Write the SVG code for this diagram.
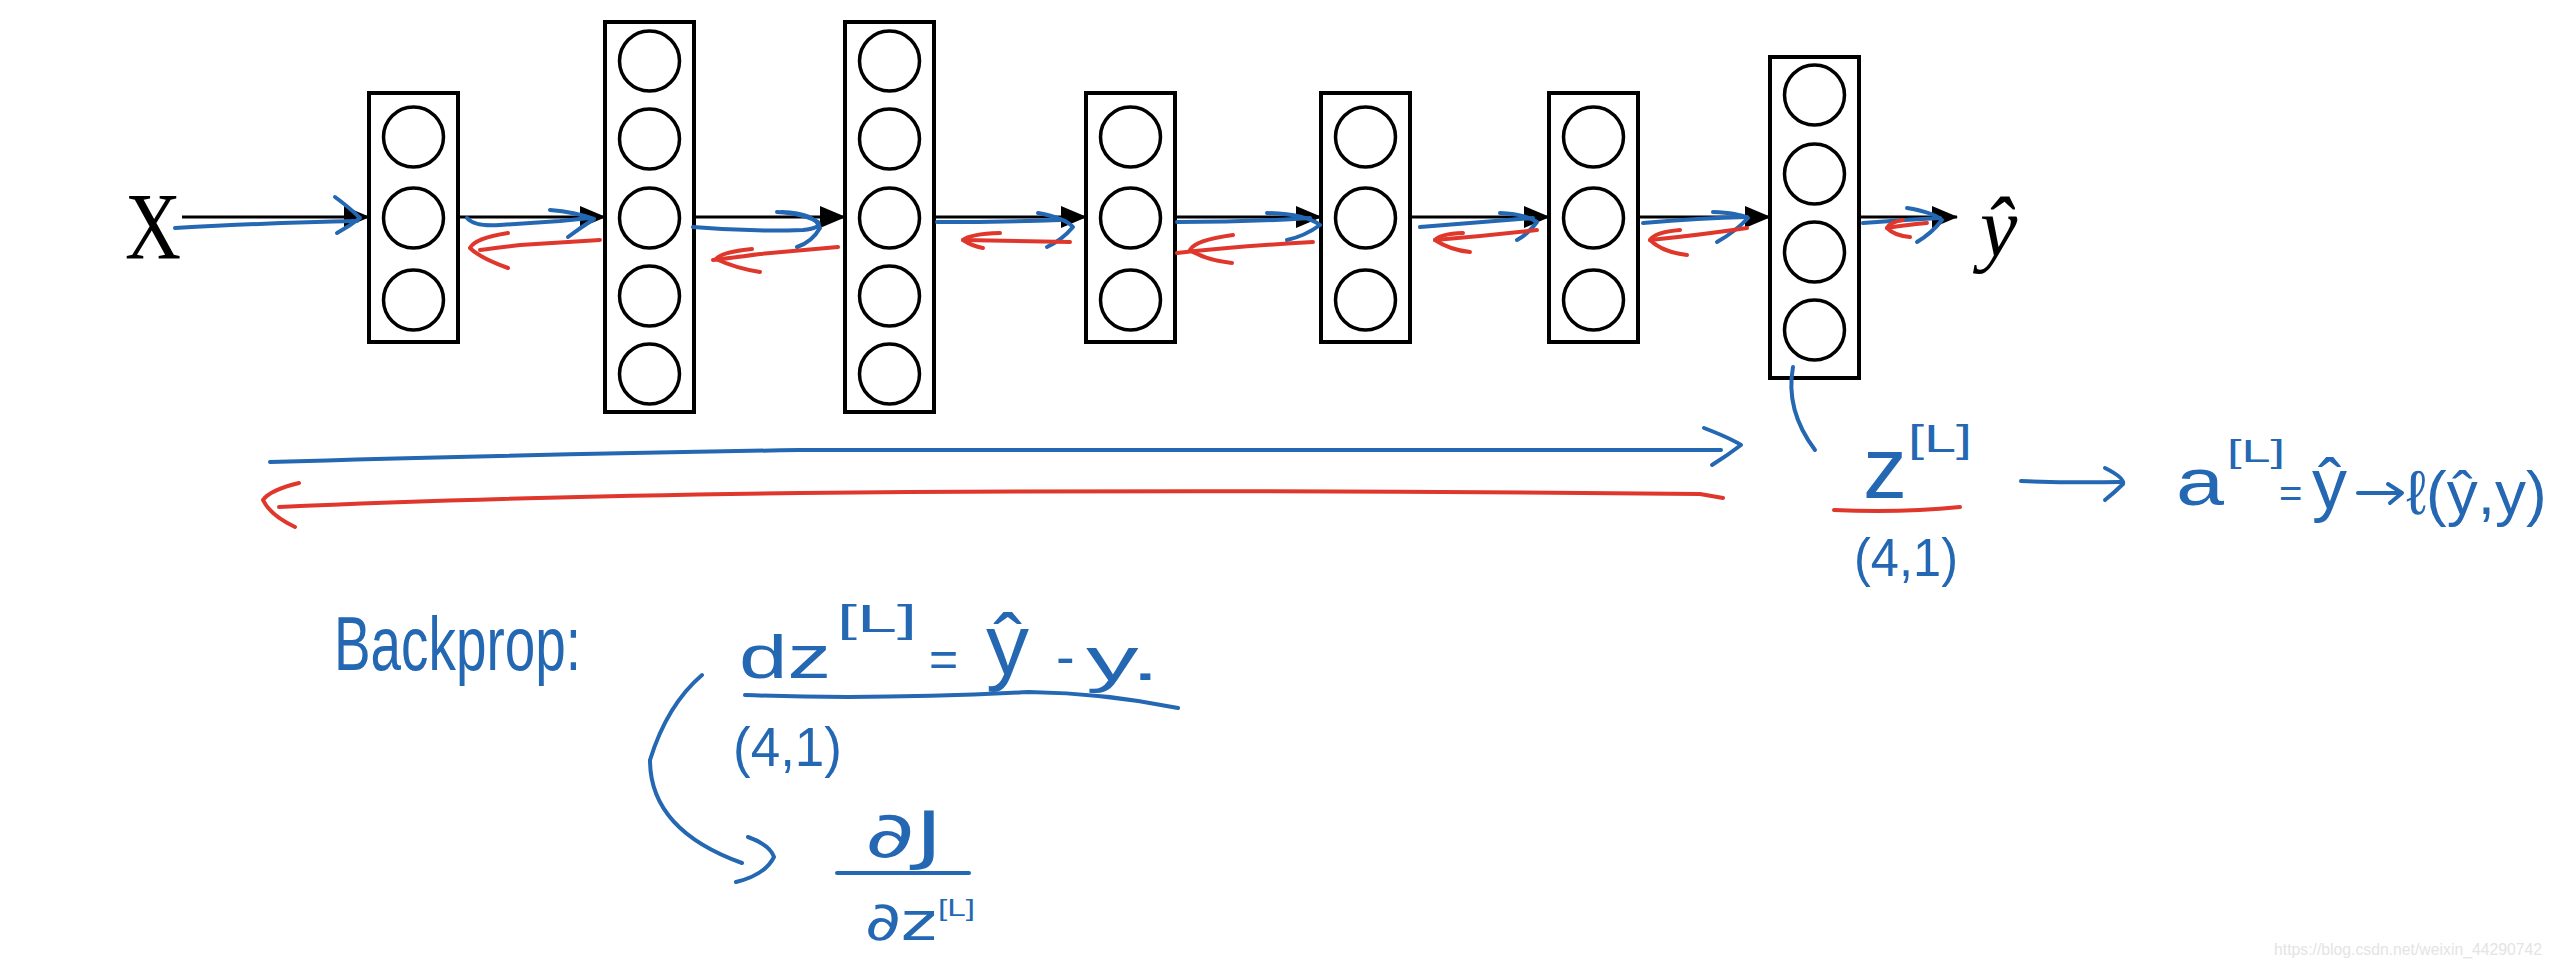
<svg xmlns="http://www.w3.org/2000/svg" width="2560" height="967" viewBox="0 0 2560 967">
<defs>
<style>
.box{fill:#fff;stroke:#000;stroke-width:4}
.neu{fill:none;stroke:#000;stroke-width:3.5}
.ax{fill:none;stroke:#000;stroke-width:3}
.bl{fill:none;stroke:#2467b2;stroke-width:4;stroke-linecap:round;stroke-linejoin:round}
.rd{fill:none;stroke:#e0372c;stroke-width:4;stroke-linecap:round;stroke-linejoin:round}
.hw{font-family:"Liberation Sans","DejaVu Sans",sans-serif;fill:#2467b2}
.hwd{font-family:"DejaVu Sans","Liberation Sans",sans-serif;fill:#2467b2}
.ser{font-family:"Liberation Serif","DejaVu Serif",serif;fill:#000}
</style>
<marker id="ah" markerUnits="userSpaceOnUse" markerWidth="26" markerHeight="22" refX="25" refY="11" orient="auto">
<path d="M0,0 L26,11 L0,22 Z" fill="#000"/>
</marker>
</defs>
<rect width="2560" height="967" fill="#fff"/>

<g id="input-x"><text class="ser" x="125" y="259" font-size="96" textLength="56" lengthAdjust="spacingAndGlyphs">X</text></g>

<g id="layer1">
<rect class="box" x="369" y="93" width="89" height="249"/>
<circle class="neu" cx="413.5" cy="137" r="30"/><circle class="neu" cx="413.5" cy="218" r="30"/><circle class="neu" cx="413.5" cy="300" r="30"/>
</g>
<g id="layer2">
<rect class="box" x="605" y="22" width="89" height="390"/>
<circle class="neu" cx="649.5" cy="61" r="30"/><circle class="neu" cx="649.5" cy="139" r="30"/><circle class="neu" cx="649.5" cy="218" r="30"/><circle class="neu" cx="649.5" cy="296" r="30"/><circle class="neu" cx="649.5" cy="374" r="30"/>
</g>
<g id="layer3">
<rect class="box" x="845" y="22" width="89" height="390"/>
<circle class="neu" cx="889.5" cy="61" r="30"/><circle class="neu" cx="889.5" cy="139" r="30"/><circle class="neu" cx="889.5" cy="218" r="30"/><circle class="neu" cx="889.5" cy="296" r="30"/><circle class="neu" cx="889.5" cy="374" r="30"/>
</g>
<g id="layer4">
<rect class="box" x="1086" y="93" width="89" height="249"/>
<circle class="neu" cx="1130.5" cy="137" r="30"/><circle class="neu" cx="1130.5" cy="218" r="30"/><circle class="neu" cx="1130.5" cy="300" r="30"/>
</g>
<g id="layer5">
<rect class="box" x="1321" y="93" width="89" height="249"/>
<circle class="neu" cx="1365.5" cy="137" r="30"/><circle class="neu" cx="1365.5" cy="218" r="30"/><circle class="neu" cx="1365.5" cy="300" r="30"/>
</g>
<g id="layer6">
<rect class="box" x="1549" y="93" width="89" height="249"/>
<circle class="neu" cx="1593.5" cy="137" r="30"/><circle class="neu" cx="1593.5" cy="218" r="30"/><circle class="neu" cx="1593.5" cy="300" r="30"/>
</g>
<g id="layer7">
<rect class="box" x="1770" y="57" width="89" height="321"/>
<circle class="neu" cx="1814.5" cy="95" r="30"/><circle class="neu" cx="1814.5" cy="174" r="30"/><circle class="neu" cx="1814.5" cy="252" r="30"/><circle class="neu" cx="1814.5" cy="330" r="30"/>
</g>
<g id="output-yhat"><text class="ser" x="1980" y="256" font-size="84" font-style="italic">ŷ</text></g>

<g id="connectors">
<path class="ax" d="M182,217 H369" marker-end="url(#ah)"/>
<path class="ax" d="M458,217 H605" marker-end="url(#ah)"/>
<path class="ax" d="M694,217 H845" marker-end="url(#ah)"/>
<path class="ax" d="M934,217 H1086" marker-end="url(#ah)"/>
<path class="ax" d="M1175,217 H1321" marker-end="url(#ah)"/>
<path class="ax" d="M1410,217 H1549" marker-end="url(#ah)"/>
<path class="ax" d="M1638,217 H1770" marker-end="url(#ah)"/>
<path class="ax" d="M1859,217 H1957" marker-end="url(#ah)"/>

<path class="bl" d="M175,228 C230,225 300,222 357,221"/>
<path class="bl" d="M335,197 Q350,208 360,218 Q350,226 337,233"/>
<path class="bl" d="M467,218 Q475,227 500,225 L560,221 Q580,219 590,218"/>
<path class="bl" d="M550,210 Q575,212 594,219 Q580,228 568,237"/>
<path class="rd" d="M600,240 L520,245 Q495,248 480,250"/>
<path class="rd" d="M508,233 Q475,238 470,248 Q480,258 508,268"/>

<path class="bl" d="M693,227 Q750,232 803,230 Q822,228 818,222 Q805,214 777,212 M782,212 Q815,213 820,228 Q812,242 797,247"/>
<path class="rd" d="M838,247 L760,254 Q730,258 713,260"/>
<path class="rd" d="M752,249 Q722,252 716,259 Q735,268 760,272"/>

<path class="bl" d="M937,222 Q1000,222 1060,220"/>
<path class="bl" d="M1038,213 Q1065,218 1073,227 Q1062,240 1047,247"/>
<path class="rd" d="M1070,242 Q1010,241 963,240"/>
<path class="rd" d="M1000,233 Q970,234 963,240 Q972,246 983,248"/>

<path class="bl" d="M1177,222 Q1250,222 1310,218"/>
<path class="bl" d="M1267,213 Q1305,214 1320,225 Q1305,236 1287,240"/>
<path class="rd" d="M1313,242 Q1240,246 1177,253"/>
<path class="rd" d="M1233,235 Q1195,240 1190,250 Q1205,260 1232,263"/>

<path class="bl" d="M1420,227 Q1480,222 1533,218"/>
<path class="bl" d="M1500,213 Q1525,214 1537,222 Q1528,234 1517,240"/>
<path class="rd" d="M1537,230 Q1485,236 1435,240"/>
<path class="rd" d="M1463,233 Q1440,234 1435,240 Q1450,250 1470,252"/>

<path class="bl" d="M1643,223 Q1700,218 1747,217"/>
<path class="bl" d="M1713,212 Q1738,213 1748,218 Q1735,232 1717,242"/>
<path class="rd" d="M1747,228 Q1700,235 1650,240"/>
<path class="rd" d="M1680,230 Q1655,232 1650,240 Q1662,252 1687,255"/>

<path class="bl" d="M1863,223 Q1900,220 1940,218"/>
<path class="bl" d="M1907,208 Q1932,212 1942,220 Q1932,233 1917,242"/>
<path class="rd" d="M1927,223 Q1905,225 1887,228"/>
<path class="rd" d="M1903,220 Q1890,222 1887,228 Q1895,236 1910,237"/>

<path class="bl" d="M270,462 Q500,455 800,450 Q1250,452 1721,450"/>
<path class="bl" d="M1704,428 Q1730,438 1741,445 Q1728,455 1712,465"/>
<path class="rd" d="M279,507 Q500,497 800,493 Q1250,489 1700,494 L1723,498"/>
<path class="rd" d="M299,483 Q270,490 263,500 Q270,515 295,527"/>

<path class="bl" d="M1793,367 Q1785,410 1815,450"/>
<path class="rd" d="M1834,510 Q1900,513 1960,507"/>
<path class="bl" d="M2021,481 Q2070,483 2120,482"/>
<path class="bl" d="M2105,468 Q2125,478 2123,484 Q2115,492 2105,500"/>
<path class="bl" d="M2358,493 L2400,493"/>
<path class="bl" d="M2388,484 L2402,493 L2390,503"/>

<path class="bl" d="M745,695 Q874,700 1029,692 Q1104,693 1178,708"/>
<path class="bl" d="M702,675 Q667,705 650,760 Q650,830 742,863"/>
<path class="bl" d="M748,837 Q770,845 774,857 Q765,875 736,882"/>
<path class="bl" d="M837,873 L969,873"/>
</g>

<g id="zL-label">
<text class="hw" x="1863" y="498" font-size="88">z</text>
<text class="hw" x="1908" y="452" font-size="38" textLength="64" lengthAdjust="spacingAndGlyphs">[L]</text>
<text class="hw" x="1854" y="576" font-size="54" textLength="104" lengthAdjust="spacingAndGlyphs">(4,1)</text>
</g>
<g id="aL-label">
<text class="hw" x="2176" y="505" font-size="66" textLength="48" lengthAdjust="spacingAndGlyphs">a</text>
<text class="hw" x="2227" y="462" font-size="32" textLength="58" lengthAdjust="spacingAndGlyphs">[L]</text>
<text class="hw" x="2279" y="507" font-size="40">=</text>
<text class="hw" x="2312" y="508" font-size="70">ŷ</text>
<text class="hw" x="2406" y="514" font-size="62">ℓ(ŷ,y)</text>
</g>
<g id="backprop-label">
<text class="hw" x="334" y="670" font-size="76" textLength="247" lengthAdjust="spacingAndGlyphs">Backprop:</text>
</g>
<g id="dz-eq">
<text class="hw" x="739" y="678" font-size="62" textLength="92" lengthAdjust="spacingAndGlyphs">dz</text>
<text class="hw" x="837" y="632" font-size="38" textLength="80" lengthAdjust="spacingAndGlyphs">[L]</text>
<text class="hw" x="929" y="676" font-size="50">=</text>
<text class="hw" x="986" y="674" font-size="86">ŷ</text>
<text class="hw" x="1056" y="676" font-size="56">-</text>
<text class="hw" x="1086" y="680" font-size="62" textLength="74" lengthAdjust="spacingAndGlyphs">y.</text>
<text class="hw" x="733" y="766" font-size="56" textLength="109" lengthAdjust="spacingAndGlyphs">(4,1)</text>
</g>
<g id="dJdz">
<text class="hwd" x="865" y="857" font-size="64" textLength="78" lengthAdjust="spacingAndGlyphs">∂J</text>
<text class="hwd" x="865" y="940" font-size="54" textLength="72" lengthAdjust="spacingAndGlyphs">∂z</text>
<text class="hw" x="938" y="916" font-size="24" textLength="37" lengthAdjust="spacingAndGlyphs">[L]</text>
</g>
<text x="2274" y="955" font-family="Liberation Sans, Arial, sans-serif" font-size="17" fill="#e4e4e4" textLength="268" lengthAdjust="spacingAndGlyphs">https://blog.csdn.net/weixin_44290742</text>
</svg>
